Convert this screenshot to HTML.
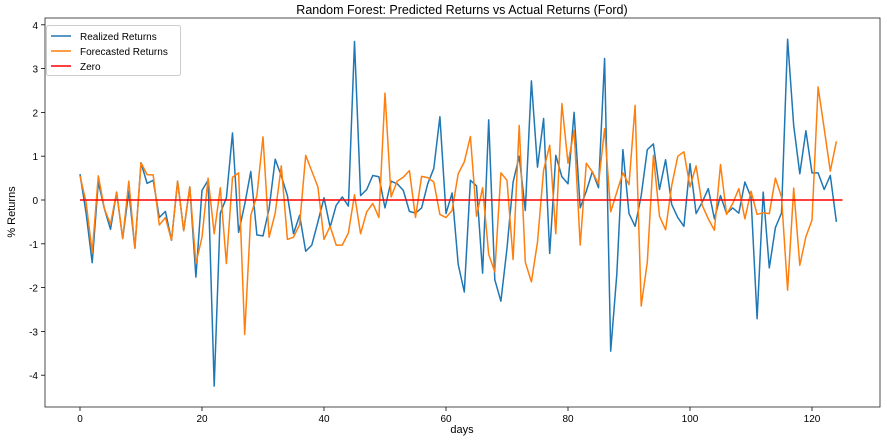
<!DOCTYPE html>
<html><head><meta charset="utf-8"><style>
body{margin:0;background:#fff;font-family:"Liberation Sans",sans-serif}
svg text{font-family:"Liberation Sans",sans-serif;fill:#000}
</style></head><body>
<svg id="chart" width="887" height="441" xmlns="http://www.w3.org/2000/svg">
<text x="462" y="14" font-size="12.5" text-anchor="middle">Random Forest: Predicted Returns vs Actual Returns (Ford)</text>
<g id="plot"></g>
<text x="462" y="433" font-size="11" text-anchor="middle">days</text>
<text x="15" y="212" font-size="11" text-anchor="middle" transform="rotate(-90 15 212)">% Returns</text>
</svg>
<script>
const realized=[0.59,-0.3,-1.43,0.41,-0.2,-0.67,0.18,-0.88,0.2,-1.1,0.85,0.38,0.45,-0.4,-0.26,-0.92,0.43,-0.7,0.3,-1.76,0.22,0.45,-4.25,-0.3,0.05,1.53,-0.74,-0.1,0.65,-0.8,-0.82,-0.2,0.93,0.55,0.1,-0.77,-0.35,-1.17,-1.03,-0.5,0.05,-0.62,-0.12,0.07,-0.14,3.62,0.1,0.24,0.56,0.53,-0.18,0.43,0.37,0.22,-0.26,-0.3,-0.18,0.37,0.72,1.9,-0.31,0.16,-1.47,-2.1,0.45,0.32,-1.67,1.83,-1.82,-2.31,-1.1,0.41,1.0,-0.24,2.72,0.75,1.86,-1.22,1.02,0.53,0.37,2.0,-0.18,0.2,0.65,0.28,3.23,-3.45,-1.7,1.15,-0.31,-0.6,0.1,1.15,1.28,0.24,0.92,-0.1,-0.4,-0.6,0.83,-0.31,-0.05,0.26,-0.43,0.1,-0.31,-0.18,-0.3,0.41,0.07,-2.71,0.18,-1.55,-0.63,-0.3,3.67,1.7,0.6,1.58,0.62,0.62,0.24,0.56,-0.5];
const forecast=[0.55,-0.05,-1.2,0.55,-0.2,-0.55,0.18,-0.88,0.43,-1.1,0.85,0.58,0.57,-0.57,-0.4,-0.92,0.43,-0.7,0.3,-1.45,-0.85,0.5,-0.77,0.28,-1.45,0.52,0.62,-3.07,-0.35,0.1,1.44,-0.85,-0.3,0.78,-0.9,-0.85,-0.56,1.02,0.66,0.3,-0.9,-0.6,-1.03,-1.03,-0.75,0.12,-0.77,-0.27,-0.08,-0.4,2.44,0.07,0.43,0.52,0.67,-0.4,0.54,0.51,0.41,-0.33,-0.4,-0.24,0.6,0.87,1.45,-0.37,0.28,-1.24,-1.64,0.62,0.45,-1.36,1.7,-1.42,-1.87,-0.96,0.68,1.25,-0.77,2.2,0.84,1.59,-1.03,0.84,0.64,0.37,1.63,-0.27,0.18,0.62,0.35,2.16,-2.42,-1.42,1.02,-0.37,-0.68,0.33,1.0,1.1,0.3,0.78,-0.12,-0.43,-0.69,0.81,-0.33,-0.08,0.26,-0.43,0.2,-0.33,-0.29,-0.31,0.5,0.07,-2.06,0.27,-1.49,-0.84,-0.46,2.58,1.63,0.66,1.34];
const zeroEnd=125;
const xTicks=[0,20,40,60,80,100,120];
const yTicks=[-4,-3,-2,-1,0,1,2,3,4];
const L=45,R=880,T=18,B=407;
const xs=i=>80+6.1*i, ys=v=>200-43.8*v;
const NS="http://www.w3.org/2000/svg";
const g=document.getElementById('plot');
function mk(t,a){const e=document.createElementNS(NS,t);for(const k in a)e.setAttribute(k,a[k]);g.appendChild(e);return e;}
xTicks.forEach(t=>{
  const l=mk('line',{x1:xs(t),x2:xs(t),y1:B,y2:B+4,stroke:'#000','stroke-width':0.8});
  
  
  const tx=mk('text',{x:xs(t),y:B+15,'font-size':10,'text-anchor':'middle'});tx.textContent=t;
  
  
});
yTicks.forEach(t=>{
  const l=mk('line',{x1:L-4,x2:L,y1:ys(t),y2:ys(t),stroke:'#000','stroke-width':0.8});
  
  
  const tx=mk('text',{x:L-7,y:ys(t)+4,'font-size':10,'text-anchor':'end'});tx.textContent=t;
  
  
});
function line(arr,color,name){
  const p=mk('polyline',{points:arr.map((v,i)=>xs(i)+','+ys(v)).join(' '),fill:'none',stroke:color,'stroke-width':1.5,'stroke-linejoin':'round'});
  
  
}
line(realized,'#1f77b4','realized-returns-line');
line(forecast,'#ff7f0e','forecasted-returns-line');
const z=mk('line',{x1:xs(0),x2:xs(zeroEnd),y1:ys(0),y2:ys(0),stroke:'red','stroke-width':1.5});


const fr=mk('rect',{x:L,y:T,width:R-L,height:B-T,fill:'none',stroke:'#222','stroke-width':0.8});


const lg=mk('rect',{x:46.5,y:25.5,width:134,height:50,fill:'#fff','fill-opacity':0.8,stroke:'#ccc',rx:2});


[['Realized Returns','#1f77b4'],['Forecasted Returns','#ff7f0e'],['Zero','red']].forEach((e,k)=>{
  const y=36+k*15;
  const s=mk('line',{x1:51,x2:71,y1:y,y2:y,stroke:e[1],'stroke-width':1.5});
  
  
  const t=mk('text',{x:80,y:y+4,'font-size':10});t.textContent=e[0];
  
  
});
</script>
</body></html>
